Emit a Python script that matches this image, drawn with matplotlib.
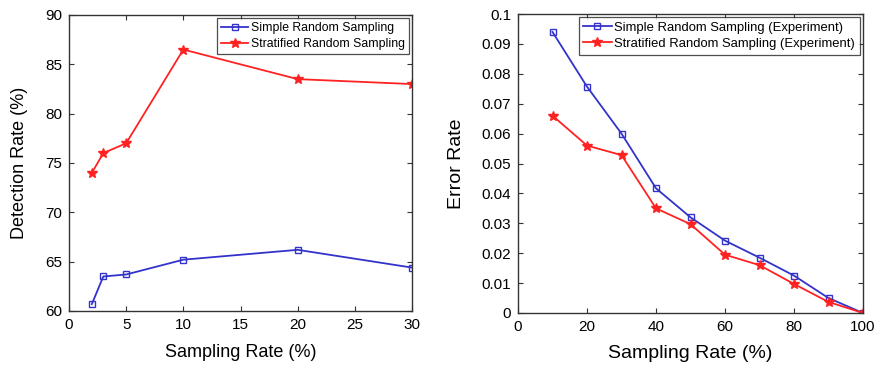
import matplotlib
matplotlib.use('Agg')
import matplotlib.pyplot as plt

plt.rcParams['font.family'] = ['Liberation Sans', 'DejaVu Sans']

# left panel: detection rate
rate_a = [2, 3, 5, 10, 20, 30]
simple_det = [60.7, 63.5, 63.7, 65.2, 66.2, 64.4]
strat_det = [74.0, 76.0, 77.0, 86.5, 83.5, 83.0]

# right panel: error rate
rate_b = [10, 20, 30, 40, 50, 60, 70, 80, 90, 100]
simple_err = [0.094, 0.0757, 0.060, 0.0417, 0.032, 0.0242, 0.0185, 0.0125, 0.005, 0.0]
strat_err = [0.066, 0.056, 0.0528, 0.035, 0.0297, 0.0195, 0.016, 0.0097, 0.0037, 0.0]

BLUE = '#3333cc'
RED = '#ff2222'


def style_axes(ax):
    ax.tick_params(direction='in', top=True, right=True, labelsize=11, length=3.5,
                   color='#333333', pad=5)
    for s in ax.spines.values():
        s.set_linewidth(1.0)
        s.set_color('#333333')


def add_legend(ax, fs):
    leg = ax.legend(loc='upper right', fontsize=fs, fancybox=False, edgecolor='#222222',
                    handlelength=2.2, handletextpad=0.2, borderaxespad=0.25,
                    borderpad=0.35, labelspacing=0.3)
    leg.get_frame().set_linewidth(0.9)


fig = plt.figure(figsize=(8.76, 3.65), dpi=100)

ax1 = fig.add_axes([69/876, 54/365, 343/876, 296/365])
ax1.plot(rate_a, simple_det, color=BLUE, marker='s', markersize=4.5,
         markerfacecolor='none', lw=1.3, label='Simple Random Sampling')
ax1.plot(rate_a, strat_det, color=RED, marker='*', markersize=7.5,
         lw=1.3, label='Stratified Random Sampling')
ax1.set_xlim(0, 30)
ax1.set_ylim(60, 90)
ax1.set_xticks(range(0, 31, 5))
ax1.set_yticks(range(60, 91, 5))
ax1.set_xlabel('Sampling Rate (%)', fontsize=13, labelpad=9)
ax1.set_ylabel('Detection Rate (%)', fontsize=13, labelpad=12)
style_axes(ax1)
add_legend(ax1, 8.8)

ax2 = fig.add_axes([518/876, 52/365, 345/876, 299/365])
ax2.plot(rate_b, simple_err, color=BLUE, marker='s', markersize=4.5,
         markerfacecolor='none', lw=1.3, label='Simple Random Sampling (Experiment)')
ax2.plot(rate_b, strat_err, color=RED, marker='*', markersize=7.5,
         lw=1.3, label='Stratified Random Sampling (Experiment)')
ax2.set_xlim(0, 100)
ax2.set_ylim(0, 0.1)
ax2.set_xticks(range(0, 101, 20))
ax2.set_yticks([i / 100 for i in range(11)])
ax2.set_yticklabels(['0'] + ['%g' % (i / 100) for i in range(1, 11)])
ax2.set_xlabel('Sampling Rate (%)', fontsize=14, labelpad=8)
ax2.set_ylabel('Error Rate', fontsize=14, labelpad=12)
style_axes(ax2)
add_legend(ax2, 9.4)

fig.savefig('out.png', dpi=100)
